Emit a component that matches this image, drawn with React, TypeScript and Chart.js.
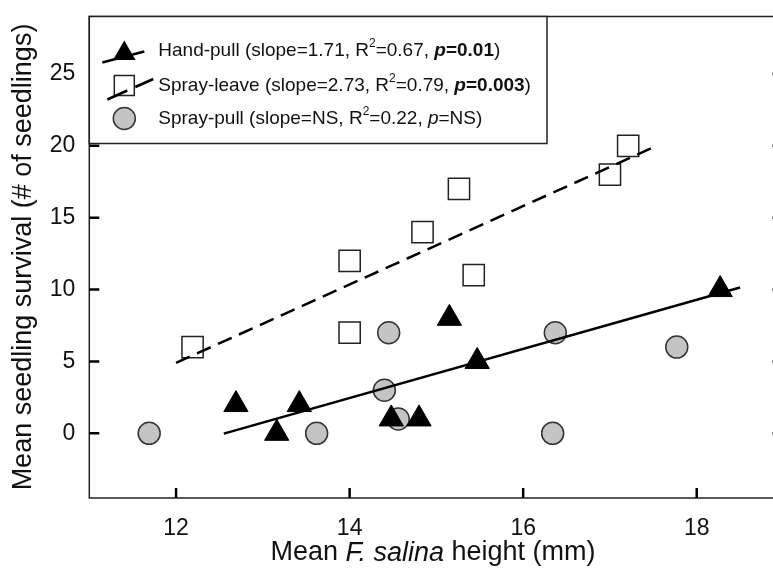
import { useEffect, useRef } from 'react';
import { Chart, registerables } from 'chart.js';

Chart.register(...registerables);

const FONT = '"Liberation Sans", Arial, Helvetica, sans-serif';

// Hand-pull (triangles)
const handX = [12.69, 13.16, 13.42, 14.48, 14.8, 15.15, 15.47, 18.27];
const handY = [2, 0, 2, 1, 1, 8, 5, 10];
// Spray-leave (squares)
const leaveX = [12.19, 14.0, 14.0, 14.84, 15.26, 15.43, 17.0, 17.21];
const leaveY = [6, 7, 12, 14, 17, 11, 18, 20];
// Spray-pull (circles)
const pullX = [11.69, 13.62, 14.4, 14.45, 14.56, 16.34, 16.37, 17.77];
const pullY = [0, 0, 3, 7, 1, 0, 7, 6];

// regression lines (end points)
const handFitX = [12.55, 18.5];
const handFitY = [-0.02, 10.15];
const leaveFitX = [12.0, 17.5];
const leaveFitY = [4.9, 19.9];

const xTicks = [12, 14, 16, 18];
const yTicks = [0, 5, 10, 15, 20, 25];

const xTitle = ['Mean ', 'F. salina', ' height (mm)'];
const yTitle = 'Mean seedling survival (# of seedlings)';

// legend rows: [text, style] runs
type Run = [string, 'r' | 'sup' | 'i' | 'bi' | 'b'];
const legendRows: Run[][] = [
  [['Hand-pull (slope=1.71, R', 'r'], ['2', 'sup'], ['=0.67, ', 'r'], ['p', 'bi'], ['=0.01', 'b'], [')', 'r']],
  [['Spray-leave (slope=2.73, R', 'r'], ['2', 'sup'], ['=0.79, ', 'r'], ['p', 'bi'], ['=0.003', 'b'], [')', 'r']],
  [['Spray-pull (slope=NS, R', 'r'], ['2', 'sup'], ['=0.22, ', 'r'], ['p', 'i'], ['=NS)', 'r']],
];

const pts = (xs: number[], ys: number[]) => xs.map((x, i) => ({ x, y: ys[i] }));

const CIRCLE_FILL = '#c4c4c4';

function runFont(s: Run[1], size: number) {
  if (s === 'sup') return `${Math.round(size * 0.65)}px ${FONT}`;
  if (s === 'i') return `italic ${size}px ${FONT}`;
  if (s === 'bi') return `italic bold ${size}px ${FONT}`;
  if (s === 'b') return `bold ${size}px ${FONT}`;
  return `${size}px ${FONT}`;
}

function drawRuns(ctx: CanvasRenderingContext2D, runs: Run[], x: number, y: number, size: number) {
  let cx = x;
  ctx.textBaseline = 'middle';
  ctx.textAlign = 'left';
  runs.forEach(([t, s]) => {
    ctx.font = runFont(s, size);
    ctx.fillText(t, cx, s === 'sup' ? y - size * 0.38 : y);
    cx += ctx.measureText(t).width;
  });
}

const framePlugin = {
  id: 'frame',
  afterDraw(chart: Chart) {
    const { ctx, chartArea: a } = chart;
    const xs = chart.scales.x;
    const ys = chart.scales.y;
    ctx.save();

    // frame
    ctx.strokeStyle = '#222';
    ctx.lineWidth = 1.5;
    ctx.strokeRect(a.left, a.top, a.right - a.left, a.bottom - a.top);

    // inward ticks
    ctx.strokeStyle = '#000';
    ctx.lineWidth = 2.5;
    ctx.beginPath();
    xTicks.forEach((v) => {
      const px = xs.getPixelForValue(v);
      ctx.moveTo(px, a.bottom);
      ctx.lineTo(px, a.bottom - 10);
    });
    yTicks.forEach((v) => {
      const py = ys.getPixelForValue(v);
      ctx.moveTo(a.left, py);
      ctx.lineTo(a.left + 10, py);
      ctx.moveTo(a.right, py);
      ctx.lineTo(a.right - 11, py);
    });
    ctx.stroke();

    // legend box
    const lx = a.left;
    const ly = a.top;
    const lw = 547 - a.left;
    const lh = 127;
    ctx.fillStyle = '#fff';
    ctx.fillRect(lx, ly, lw, lh);
    ctx.strokeStyle = '#222';
    ctx.lineWidth = 1.5;
    ctx.strokeRect(lx, ly, lw, lh);

    const rowY = [ly + 34, ly + 69, ly + 102];
    const symX = lx + 35;

    // row 1: triangle + solid line
    ctx.fillStyle = '#000';
    ctx.beginPath();
    const tr = 13;
    const ty = rowY[0] + 3;
    ctx.moveTo(symX, ty - tr);
    ctx.lineTo(symX + tr * 0.866, ty + tr * 0.5);
    ctx.lineTo(symX - tr * 0.866, ty + tr * 0.5);
    ctx.closePath();
    ctx.fill();
    ctx.strokeStyle = '#000';
    ctx.lineWidth = 2.5;
    ctx.beginPath();
    ctx.moveTo(symX - 22, rowY[0] + 12);
    ctx.lineTo(symX + 20, rowY[0] + 1);
    ctx.stroke();

    // row 2: square + two dashes of the dashed line
    ctx.fillStyle = '#fff';
    ctx.strokeStyle = '#222';
    ctx.lineWidth = 1.5;
    ctx.fillRect(symX - 10, rowY[1] - 10, 20, 20);
    ctx.strokeRect(symX - 10, rowY[1] - 10, 20, 20);
    ctx.strokeStyle = '#000';
    ctx.lineWidth = 2.5;
    ctx.beginPath();
    ctx.moveTo(symX - 17, rowY[1] + 14);
    ctx.lineTo(symX + 3, rowY[1] + 5);
    ctx.moveTo(symX + 11, rowY[1] + 1.5);
    ctx.lineTo(symX + 29, rowY[1] - 6.5);
    ctx.stroke();

    // row 3: circle
    ctx.fillStyle = CIRCLE_FILL;
    ctx.strokeStyle = '#333';
    ctx.lineWidth = 1.5;
    ctx.beginPath();
    ctx.arc(symX, rowY[2], 11, 0, Math.PI * 2);
    ctx.fill();
    ctx.stroke();

    ctx.fillStyle = '#111';
    legendRows.forEach((runs, i) => drawRuns(ctx, runs, lx + 69, rowY[i], 19));

    // axis titles
    const size = 27;
    let total = 0;
    xTitle.forEach((t, i) => {
      ctx.font = runFont(i === 1 ? 'i' : 'r', size);
      total += ctx.measureText(t).width;
    });
    drawRuns(ctx, [[xTitle[0], 'r'], [xTitle[1], 'i'], [xTitle[2], 'r']], 433 - total / 2, 553, size);

    ctx.save();
    ctx.translate(24, 257);
    ctx.rotate(-Math.PI / 2);
    ctx.font = `${size}px ${FONT}`;
    ctx.textAlign = 'center';
    ctx.textBaseline = 'middle';
    ctx.fillText(yTitle, 0, 0);
    ctx.restore();

    ctx.restore();
  },
};

export default function App() {
  const canvasRef = useRef<HTMLCanvasElement>(null);

  useEffect(() => {
    const canvas = canvasRef.current;
    if (!canvas) return;

    const tickFont = { family: FONT, size: 23 };

    const chart = new Chart(canvas, {
      type: 'scatter',
      data: {
        datasets: [
          {
            type: 'line',
            label: 'Hand-pull fit',
            data: pts(handFitX, handFitY),
            borderColor: '#000',
            borderWidth: 2.5,
            pointRadius: 0,
            fill: false,
            order: 0,
          },
          {
            type: 'line',
            label: 'Spray-leave fit',
            data: pts(leaveFitX, leaveFitY),
            borderColor: '#000',
            borderWidth: 2.5,
            borderDash: [15, 8],
            pointRadius: 0,
            fill: false,
            order: 0,
          },
          {
            label: 'Spray-pull',
            data: pts(pullX, pullY),
            pointStyle: 'circle',
            pointRadius: 11,
            backgroundColor: CIRCLE_FILL,
            borderColor: '#333',
            borderWidth: 1.5,
            order: 3,
          },
          {
            label: 'Spray-leave',
            data: pts(leaveX, leaveY),
            pointStyle: 'rect',
            pointRadius: 15,
            backgroundColor: '#fff',
            borderColor: '#222',
            borderWidth: 1.5,
            order: 2,
          },
          {
            label: 'Hand-pull',
            data: pts(handX, handY),
            pointStyle: 'triangle',
            pointRadius: 14,
            backgroundColor: '#000',
            borderColor: '#000',
            borderWidth: 1,
            order: 1,
          },
        ],
      },
      options: {
        animation: false,
        responsive: true,
        maintainAspectRatio: false,
        layout: { padding: { top: 13, right: 16.3, left: 0, bottom: 0 } },
        plugins: {
          legend: { display: false },
          tooltip: { enabled: false },
        },
        scales: {
          x: {
            type: 'linear',
            min: 11,
            max: 19,
            grid: { display: false, drawTicks: false },
            border: { display: false },
            afterBuildTicks: (s: any) => {
              s.ticks = xTicks.map((value) => ({ value }));
            },
            afterFit: (s: any) => {
              s.height = 71;
              s.paddingLeft = 0;
              s.paddingRight = 0;
            },
            ticks: { font: tickFont, color: '#111', padding: 17, maxRotation: 0 },
          },
          y: {
            type: 'linear',
            min: -4.5,
            max: 29,
            grid: { display: false, drawTicks: false },
            border: { display: false },
            afterBuildTicks: (s: any) => {
              s.ticks = yTicks.map((value) => ({ value }));
            },
            afterFit: (s: any) => {
              s.width = 89.3;
              s.paddingTop = 0;
              s.paddingBottom = 0;
            },
            ticks: { font: tickFont, color: '#111', padding: 14 },
          },
        },
      },
      plugins: [framePlugin],
    });

    return () => chart.destroy();
  }, []);

  return (
    <div
      style={{
        position: 'fixed',
        left: 0,
        top: 0,
        width: 773,
        height: 569,
        overflow: 'hidden',
        background: '#fff',
      }}
    >
      <div style={{ position: 'relative', width: 800, height: 569 }}>
        <canvas ref={canvasRef} />
      </div>
    </div>
  );
}
